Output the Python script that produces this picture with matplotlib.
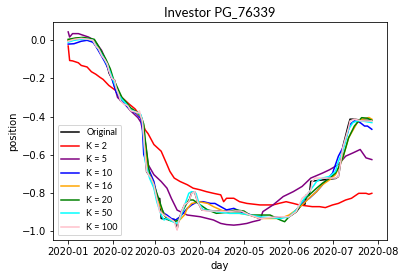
import matplotlib
matplotlib.use("Agg")
import matplotlib.pyplot as plt
import pandas as pd

title = "Investor PG_76339"
start = "2020-01-01"

# Each series: day offsets from start, and position values
orig_days = [0, 5, 10, 17, 19, 22, 25, 27, 28, 30, 32, 34, 36, 40, 43, 48, 50, 51, 52, 53, 54, 57, 59, 61, 63, 64, 68, 73, 75, 76, 78, 80, 83, 85, 87, 89, 92, 100, 119, 125, 132, 152, 157, 161, 163, 164, 166, 167, 184, 186, 187, 189, 191, 193, 194, 197, 202, 209]
orig_vals = [0.0, 0.005, 0.01, 0.0, -0.03, -0.06, -0.1, -0.125, -0.17, -0.2, -0.21, -0.28, -0.317, -0.335, -0.37, -0.381, -0.4, -0.42, -0.51, -0.6, -0.69, -0.72, -0.76, -0.83, -0.83, -0.935, -0.94, -0.94, -0.99, -0.95, -0.9, -0.865, -0.845, -0.8, -0.795, -0.845, -0.89, -0.895, -0.9, -0.917, -0.935, -0.926, -0.9, -0.86, -0.86, -0.811, -0.811, -0.74, -0.725, -0.715, -0.67, -0.56, -0.5, -0.44, -0.414, -0.414, -0.42, -0.42]

k2_days = [0, 1, 3, 7, 9, 13, 16, 19, 22, 24, 28, 33, 37, 42, 46, 49, 50, 51, 53, 55, 59, 64, 66, 68, 70, 73, 77, 82, 86, 91, 95, 100, 105, 107, 109, 114, 118, 123, 132, 141, 145, 150, 155, 159, 168, 173, 177, 182, 186, 191, 195, 200, 205, 207, 209]
k2_vals = [-0.03, -0.106, -0.108, -0.118, -0.132, -0.14, -0.165, -0.178, -0.195, -0.205, -0.237, -0.265, -0.3, -0.335, -0.36, -0.39, -0.405, -0.43, -0.47, -0.49, -0.547, -0.582, -0.617, -0.652, -0.688, -0.723, -0.741, -0.758, -0.776, -0.785, -0.794, -0.803, -0.811, -0.847, -0.829, -0.829, -0.847, -0.856, -0.864, -0.864, -0.856, -0.847, -0.856, -0.864, -0.873, -0.873, -0.878, -0.864, -0.856, -0.838, -0.829, -0.803, -0.803, -0.808, -0.803]

k5_days = [0, 1, 3, 7, 14, 18, 23, 25, 27, 30, 34, 39, 43, 48, 50, 53, 55, 59, 64, 68, 71, 75, 82, 86, 91, 100, 105, 109, 114, 118, 123, 127, 132, 134, 141, 148, 155, 161, 167, 175, 180, 186, 191, 196, 201, 205, 209]
k5_vals = [0.044, 0.017, 0.035, 0.035, 0.017, 0.0, -0.053, -0.088, -0.141, -0.194, -0.3, -0.335, -0.37, -0.406, -0.43, -0.529, -0.652, -0.705, -0.741, -0.776, -0.829, -0.891, -0.917, -0.921, -0.926, -0.943, -0.961, -0.967, -0.97, -0.967, -0.961, -0.952, -0.943, -0.899, -0.864, -0.82, -0.794, -0.767, -0.723, -0.697, -0.679, -0.652, -0.608, -0.591, -0.573, -0.617, -0.626]

k10_days = [0, 4, 9, 13, 17, 19, 22, 25, 27, 30, 33, 36, 39, 43, 47, 50, 51, 52, 55, 59, 61, 64, 66, 68, 71, 74, 77, 82, 85, 89, 93, 98, 101, 105, 109, 114, 118, 125, 132, 146, 152, 157, 161, 166, 171, 177, 182, 184, 186, 189, 192, 194, 197, 201, 204, 206, 209]
k10_vals = [-0.02, -0.018, -0.005, 0.0, -0.01, -0.03, -0.07, -0.11, -0.14, -0.2, -0.27, -0.31, -0.335, -0.365, -0.385, -0.41, -0.45, -0.599, -0.67, -0.741, -0.811, -0.882, -0.908, -0.917, -0.935, -0.943, -0.926, -0.882, -0.864, -0.847, -0.847, -0.856, -0.856, -0.873, -0.89, -0.882, -0.896, -0.914, -0.935, -0.926, -0.926, -0.89, -0.856, -0.829, -0.794, -0.741, -0.697, -0.652, -0.608, -0.565, -0.494, -0.441, -0.423, -0.432, -0.45, -0.45, -0.467]

k16_days = [0, 5, 10, 15, 18, 20, 23, 26, 28, 30, 33, 35, 37, 40, 43, 47, 50, 52, 53, 55, 58, 61, 65, 68, 73, 76, 80, 82, 85, 90, 96, 100, 105, 111, 118, 125, 132, 146, 152, 157, 161, 167, 171, 175, 180, 184, 186, 189, 191, 193, 197, 199, 202, 205, 207, 209]
k16_vals = [0.0, 0.01, 0.012, 0.005, -0.005, -0.03, -0.07, -0.11, -0.15, -0.19, -0.24, -0.28, -0.31, -0.33, -0.36, -0.38, -0.4, -0.45, -0.55, -0.688, -0.741, -0.829, -0.899, -0.935, -0.952, -0.949, -0.917, -0.882, -0.856, -0.847, -0.856, -0.873, -0.89, -0.908, -0.908, -0.917, -0.935, -0.935, -0.917, -0.89, -0.864, -0.82, -0.794, -0.758, -0.732, -0.705, -0.67, -0.617, -0.565, -0.512, -0.459, -0.432, -0.414, -0.41, -0.405, -0.414]

k20_days = [0, 5, 10, 15, 18, 20, 23, 26, 29, 31, 34, 37, 40, 43, 47, 50, 52, 53, 56, 59, 63, 66, 69, 73, 76, 78, 81, 83, 86, 91, 96, 102, 109, 115, 121, 125, 139, 146, 149, 152, 157, 161, 166, 171, 175, 180, 184, 186, 189, 191, 193, 197, 200, 202, 206, 209]
k20_vals = [0.005, 0.012, 0.015, 0.01, 0.005, -0.02, -0.06, -0.1, -0.15, -0.2, -0.25, -0.3, -0.325, -0.355, -0.375, -0.395, -0.44, -0.52, -0.705, -0.758, -0.847, -0.917, -0.943, -0.952, -0.943, -0.908, -0.864, -0.838, -0.838, -0.864, -0.89, -0.908, -0.903, -0.89, -0.896, -0.917, -0.917, -0.943, -0.952, -0.926, -0.899, -0.847, -0.811, -0.776, -0.75, -0.723, -0.697, -0.67, -0.617, -0.565, -0.512, -0.45, -0.423, -0.406, -0.409, -0.42]

k50_days = [0, 4, 9, 14, 17, 19, 22, 25, 27, 29, 31, 33, 35, 37, 40, 43, 46, 48, 50, 51, 52, 53, 56, 59, 61, 64, 66, 68, 72, 75, 77, 81, 83, 85, 88, 90, 93, 102, 111, 118, 125, 132, 146, 152, 157, 161, 166, 171, 175, 180, 184, 186, 189, 191, 193, 196, 199, 202, 209]
k50_vals = [-0.01, 0.0, 0.005, 0.005, 0.0, -0.025, -0.06, -0.1, -0.13, -0.17, -0.21, -0.25, -0.29, -0.31, -0.335, -0.365, -0.375, -0.38, -0.39, -0.42, -0.52, -0.635, -0.723, -0.776, -0.847, -0.917, -0.943, -0.935, -0.952, -0.961, -0.935, -0.847, -0.803, -0.794, -0.803, -0.856, -0.89, -0.899, -0.908, -0.908, -0.917, -0.926, -0.935, -0.926, -0.89, -0.847, -0.794, -0.741, -0.723, -0.714, -0.688, -0.635, -0.582, -0.529, -0.467, -0.432, -0.423, -0.423, -0.432]

k100_days = [0, 4, 9, 14, 17, 19, 21, 23, 25, 27, 28, 30, 32, 33, 35, 36, 38, 41, 43, 46, 48, 49, 50, 51, 52, 53, 54, 57, 59, 61, 63, 66, 70, 73, 75, 76, 78, 80, 83, 85, 87, 89, 92, 95, 102, 109, 115, 119, 125, 132, 145, 152, 157, 159, 161, 164, 167, 168, 170, 184, 186, 187, 189, 191, 193, 194, 197, 202, 209]
k100_vals = [-0.005, 0.005, 0.01, 0.005, 0.0, -0.03, -0.045, -0.08, -0.1, -0.125, -0.16, -0.2, -0.21, -0.25, -0.29, -0.317, -0.333, -0.344, -0.37, -0.375, -0.381, -0.37, -0.4, -0.42, -0.51, -0.6, -0.688, -0.723, -0.758, -0.829, -0.899, -0.917, -0.935, -0.952, -0.996, -0.952, -0.899, -0.864, -0.847, -0.803, -0.794, -0.847, -0.89, -0.896, -0.896, -0.899, -0.896, -0.896, -0.917, -0.935, -0.926, -0.926, -0.899, -0.864, -0.829, -0.811, -0.785, -0.741, -0.723, -0.723, -0.714, -0.67, -0.565, -0.512, -0.459, -0.423, -0.414, -0.423, -0.423]

labels = ["Original", "K = 2", "K = 5", "K = 10", "K = 16", "K = 20", "K = 50", "K = 100"]
colors = ["black", "red", "purple", "blue", "orange", "green", "cyan", "pink"]
series = [(orig_days, orig_vals), (k2_days, k2_vals), (k5_days, k5_vals), (k10_days, k10_vals),
          (k16_days, k16_vals), (k20_days, k20_vals), (k50_days, k50_vals), (k100_days, k100_vals)]

fig = plt.figure(figsize=(406 / 72, 278 / 72), dpi=72)
ax = fig.add_axes([53 / 406, 1 - 240 / 278, (387 - 53) / 406, (240 - 22) / 278])

t0 = pd.Timestamp(start)
for (d, v), lab, col in zip(series, labels, colors):
    dates = t0 + pd.to_timedelta(d, unit="D")
    ax.plot(dates, v, color=col, label=lab, linewidth=1.5)

ax.set_title(title, fontsize=13, family=["Lato", "DejaVu Sans"])
ax.set_xlabel("day", fontsize=10)
ax.set_ylabel("position", fontsize=10)
ax.tick_params(labelsize=10)
ax.legend(loc="lower left", prop={"family": ["Lato", "DejaVu Sans"], "size": 9})

fig.savefig("out.png", dpi=72)
